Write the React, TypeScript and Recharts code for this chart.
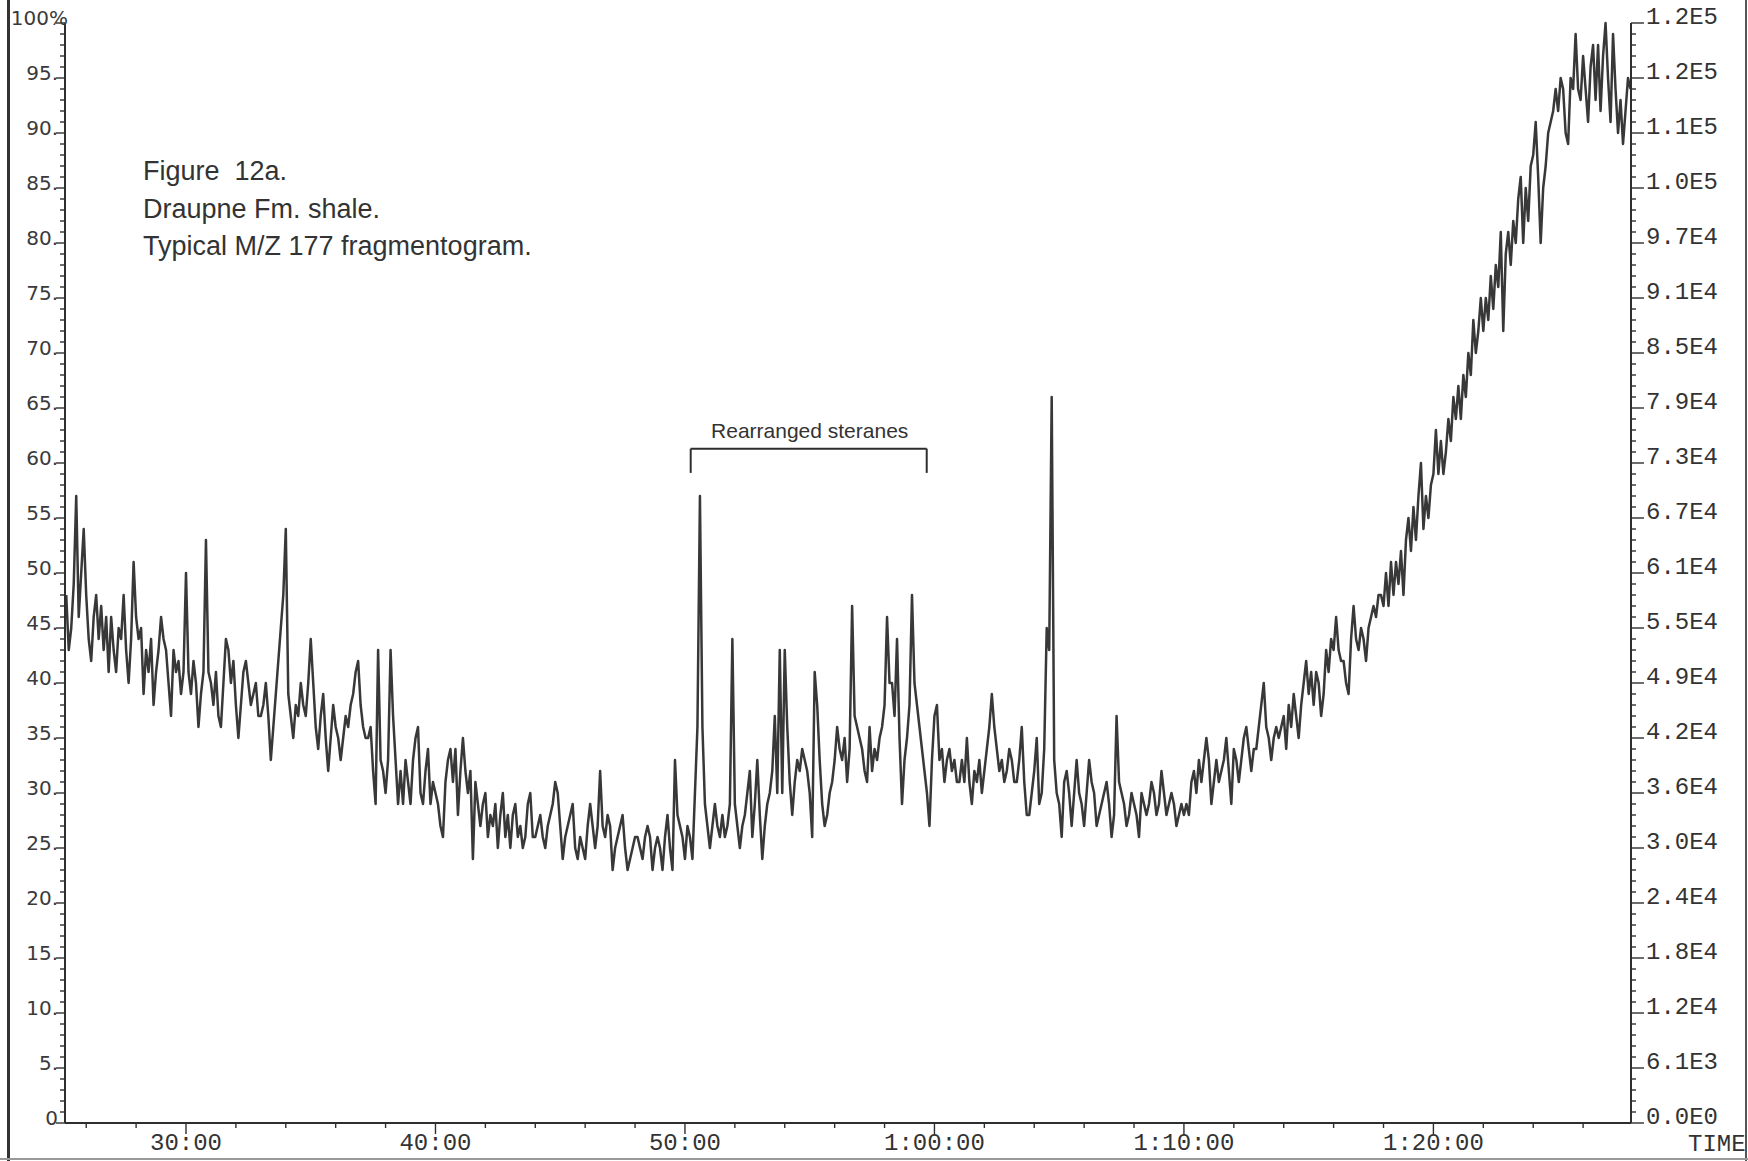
import { LineChart, Line, XAxis, YAxis, ReferenceLine, ReferenceDot, Label } from 'recharts';

const W = 1748;
const H = 1161;
const INK = '#2e2e2e';
const TRACE = '#383838';

// ── m/z 177 relative intensity (%), one scan every 0.1 min ──────
const SCAN_STEP = 0.1;

// 25.2 – 29.9 min
const scans25 = [
  48, 43, 45, 49, 57, 46, 50, 54, 48, 44,
  42, 46, 48, 44, 47, 43, 46, 41, 46, 43,
  41, 45, 44, 48, 43, 40, 44, 51, 46, 44,
  45, 39, 43, 41, 44, 38, 41, 43, 46, 44,
  43, 40, 37, 43, 41, 42, 39, 41,
];
// 30.0 – 39.9 min
const scans30 = [
  50, 41, 39, 42, 40, 36, 39, 41, 53, 41,
  40, 38, 41, 37, 36, 40, 44, 43, 40, 42,
  38, 35, 38, 41, 42, 40, 38, 39, 40, 37,
  37, 38, 40, 37, 33, 36, 39, 42, 45, 48,
  54, 39, 37, 35, 38, 37, 40, 38, 37, 40,
  44, 40, 36, 34, 37, 39, 35, 32, 35, 38,
  36, 35, 33, 35, 37, 36, 38, 39, 41, 42,
  38, 36, 35, 35, 36, 32, 29, 43, 33, 32,
  30, 33, 43, 37, 33, 29, 32, 29, 33, 31,
  29, 33, 35, 36, 30, 29, 32, 34, 29, 31,
];
// 40.0 – 49.9 min
const scans40 = [
  30, 29, 27, 26, 31, 33, 34, 31, 34, 28,
  32, 35, 32, 30, 32, 24, 31, 29, 27, 29,
  30, 26, 28, 27, 29, 25, 28, 30, 26, 28,
  25, 28, 29, 26, 27, 25, 26, 29, 30, 26,
  26, 27, 28, 26, 25, 27, 28, 29, 31, 30,
  27, 24, 26, 27, 28, 29, 25, 24, 26, 25,
  24, 27, 29, 27, 25, 27, 32, 27, 26, 28,
  27, 23, 25, 26, 27, 28, 25, 23, 24, 25,
  26, 26, 25, 24, 26, 27, 26, 23, 25, 26,
  25, 23, 26, 28, 25, 23, 33, 28, 27, 26,
];
// 50.0 – 59.9 min (rearranged steranes)
const scans50 = [
  24, 27, 26, 24, 30, 36, 57, 36, 29, 27,
  25, 27, 29, 27, 26, 28, 26, 27, 29, 44,
  29, 27, 25, 27, 28, 30, 32, 26, 29, 33,
  28, 24, 27, 29, 30, 32, 37, 30, 43, 30,
  43, 36, 31, 28, 31, 33, 32, 34, 33, 32,
  30, 26, 41, 38, 33, 29, 27, 28, 30, 31,
  33, 36, 34, 33, 35, 31, 34, 47, 37, 36,
  35, 34, 32, 31, 36, 32, 34, 33, 35, 36,
  38, 46, 40, 40, 37, 44, 35, 29, 33, 35,
  38, 48, 40, 38, 36, 34, 32, 30, 27, 33,
];
// 60.0 – 69.9 min
const scans60 = [
  37, 38, 33, 34, 31, 33, 34, 32, 33, 31,
  31, 33, 31, 35, 31, 29, 32, 31, 33, 30,
  32, 34, 36, 39, 36, 34, 32, 33, 31, 32,
  34, 33, 31, 31, 33, 36, 31, 28, 28, 30,
  32, 35, 29, 30, 34, 45, 43, 66, 33, 30,
  29, 26, 31, 32, 30, 27, 30, 33, 30, 29,
  27, 30, 33, 31, 30, 27, 28, 29, 30, 31,
  29, 26, 28, 37, 31, 30, 29, 27, 28, 30,
  29, 28, 26, 30, 29, 28, 29, 31, 30, 28,
  29, 32, 30, 28, 29, 30, 29, 27, 28, 29,
];
// 70.0 – 79.9 min
const scans70 = [
  28, 29, 28, 31, 32, 30, 33, 31, 33, 35,
  33, 29, 31, 33, 31, 32, 33, 35, 32, 29,
  34, 33, 31, 33, 35, 36, 34, 32, 34, 34,
  36, 38, 40, 36, 35, 33, 35, 36, 35, 36,
  37, 34, 38, 36, 39, 37, 35, 38, 40, 42,
  39, 41, 38, 41, 40, 37, 39, 43, 41, 44,
  43, 46, 43, 42, 42, 40, 39, 44, 47, 44,
  43, 45, 44, 42, 45, 46, 47, 46, 48, 48,
  47, 50, 47, 51, 48, 51, 49, 52, 48, 53,
  55, 52, 56, 53, 57, 60, 54, 57, 55, 58,
];
// 80.0 – 87.9 min
const scans80 = [
  59, 63, 59, 62, 59, 61, 64, 62, 66, 64,
  67, 64, 68, 66, 70, 68, 73, 70, 72, 75,
  72, 75, 73, 77, 74, 78, 76, 81, 72, 79,
  81, 78, 82, 80, 84, 86, 80, 85, 82, 87,
  88, 91, 86, 80, 85, 87, 90, 91, 92, 94,
  92, 95, 94, 90, 89, 95, 94, 99, 94, 93,
  97, 94, 91, 96, 98, 93, 98, 92, 97, 100,
  95, 91, 99, 94, 90, 93, 89, 92, 95, 94,
];

const segmentStarts = [25.2, 30, 40, 50, 60, 70, 80];
const segmentScans = [scans25, scans30, scans40, scans50, scans60, scans70, scans80];

const trace = segmentScans.flatMap((vals, s) =>
  vals.map((v, i) => ({ t: Math.round((segmentStarts[s] + i * SCAN_STEP) * 10) / 10, v })),
);

// ── axes ────────────────────────────────────────────────────
const timeTicks = [26, 28, 30, 32, 34, 36, 38, 40, 42, 44, 46, 48, 50, 52, 54, 56, 58,
  60, 62, 64, 66, 68, 70, 72, 74, 76, 78, 80, 82, 84, 86];
const timeMajor = [30, 40, 50, 60, 70, 80];
const timeLabels = ['30:00', '40:00', '50:00', '1:00:00', '1:10:00', '1:20:00'];

const pctTicks = Array.from({ length: 101 }, (_, i) => i);
const pctLabels = ['0', '5.', '10.', '15.', '20.', '25.', '30.', '35.', '40.', '45.', '50.',
  '55.', '60.', '65.', '70.', '75.', '80.', '85.', '90.', '95.', '100%'];
const absLabels = ['0.0E0', '6.1E3', '1.2E4', '1.8E4', '2.4E4', '3.0E4', '3.6E4', '4.2E4',
  '4.9E4', '5.5E4', '6.1E4', '6.7E4', '7.3E4', '7.9E4', '8.5E4', '9.1E4', '9.7E4', '1.0E5',
  '1.1E5', '1.2E5', '1.2E5'];

// bracket over the rearranged sterane window (minutes / %)
const bracket = { from: 50.23, to: 59.69, top: 61.3, foot: 59.1 };
const bracketText = { t: 55.0, v: 62.95, text: 'Rearranged steranes' };

const captionLines = ['Figure  12a.', 'Draupne Fm. shale.', 'Typical M/Z 177 fragmentogram.'];

const MONO = "'Liberation Mono', 'DejaVu Sans Mono', monospace";
const SANS = "'Liberation Sans', Arial, sans-serif";

function PctTick(props: any) {
  const { x, y, payload } = props;
  const v = payload.value as number;
  const major = v % 5 === 0;
  return (
    <g>
      <line x1={x - (major ? 9 : 5)} y1={y} x2={x} y2={y} stroke={INK} strokeWidth={1.4} />
      {major && (
        <text
          x={v === 100 ? x + 3 : x - 7}
          y={y + 2}
          textAnchor="end"
          fontFamily="'DejaVu Sans', sans-serif"
          fontSize={20}
          fill="#3a3a3a"
        >
          {pctLabels[v / 5]}
        </text>
      )}
    </g>
  );
}

function AbsTick(props: any) {
  const { x, y, payload } = props;
  const v = payload.value as number;
  const major = v % 5 === 0;
  return (
    <g>
      <line x1={x} y1={y} x2={x + (major ? 13 : 5)} y2={y} stroke={INK} strokeWidth={1.4} />
      {major && (
        <text x={x + 15} y={y + 1} textAnchor="start" fontFamily={MONO} fontSize={24} fill="#333">
          {absLabels[v / 5]}
        </text>
      )}
    </g>
  );
}

function TimeTick(props: any) {
  const { x, y, payload } = props;
  const k = timeMajor.indexOf(payload.value);
  return (
    <g>
      <line x1={x} y1={y} x2={x} y2={y + (k >= 0 ? 11 : 5)} stroke={INK} strokeWidth={1.4} />
      {k >= 0 && (
        <text x={x} y={y + 27} textAnchor="middle" fontFamily={MONO} fontSize={24} fill="#333">
          {timeLabels[k]}
        </text>
      )}
    </g>
  );
}

export default function App() {
  return (
    <div style={{ position: 'absolute', left: 0, top: 0, width: W, height: H, background: '#fff' }}>
      <LineChart width={W} height={H} data={trace} margin={{ top: 23, right: 0, bottom: 0, left: 0 }}>
        <XAxis
          dataKey="t"
          type="number"
          domain={[25.15, 87.92]}
          allowDataOverflow
          ticks={timeTicks}
          interval={0}
          height={38}
          tickSize={0}
          tickMargin={0}
          tickLine={false}
          tick={<TimeTick />}
          axisLine={{ stroke: INK, strokeWidth: 2 }}
        >
          <Label value="TIME" position="right" offset={57} fontFamily={MONO} fontSize={24} fill="#333" />
        </XAxis>
        <YAxis
          yAxisId="pct"
          type="number"
          domain={[0, 100]}
          ticks={pctTicks}
          interval={0}
          width={65}
          tickSize={0}
          tickMargin={0}
          tickLine={false}
          tick={<PctTick />}
          axisLine={{ stroke: INK, strokeWidth: 2 }}
        />
        <YAxis
          yAxisId="abs"
          orientation="right"
          type="number"
          domain={[0, 100]}
          ticks={pctTicks}
          interval={0}
          width={117}
          tickSize={0}
          tickMargin={0}
          tickLine={false}
          tick={<AbsTick />}
          axisLine={{ stroke: INK, strokeWidth: 2 }}
        />
        {/* same scans against the absolute-count scale; keeps that axis bound to data */}
        <Line
          yAxisId="abs"
          dataKey="v"
          type="linear"
          stroke="none"
          dot={false}
          activeDot={false}
          isAnimationActive={false}
        />
        <Line
          yAxisId="pct"
          dataKey="v"
          type="linear"
          stroke={TRACE}
          strokeWidth={2.5}
          strokeLinejoin="round"
          dot={false}
          activeDot={false}
          isAnimationActive={false}
        />
        <ReferenceLine
          yAxisId="pct"
          segment={[{ x: bracket.from, y: bracket.top }, { x: bracket.to, y: bracket.top }]}
          stroke={INK}
          strokeWidth={2}
        />
        <ReferenceLine
          yAxisId="pct"
          segment={[{ x: bracket.from, y: bracket.top }, { x: bracket.from, y: bracket.foot }]}
          stroke={INK}
          strokeWidth={2}
        />
        <ReferenceLine
          yAxisId="pct"
          segment={[{ x: bracket.to, y: bracket.top }, { x: bracket.to, y: bracket.foot }]}
          stroke={INK}
          strokeWidth={2}
        />
        <ReferenceDot
          yAxisId="pct"
          x={bracketText.t}
          y={bracketText.v}
          r={0}
          fill="none"
          stroke="none"
          label={{ value: bracketText.text, position: 'center', fontFamily: SANS, fontSize: 21, fill: '#333' }}
        />
      </LineChart>

      {/* caption */}
      <svg width={W} height={H} style={{ position: 'absolute', left: 0, top: 0, pointerEvents: 'none' }}>
        {captionLines.map((line, i) => (
          <text key={i} x={143} y={180 + i * 37.5} fontFamily={SANS} fontSize={27} fill="#333" style={{ whiteSpace: 'pre' }}>
            {line}
          </text>
        ))}
        {/* page frame */}
        <line x1={8.5} y1={0} x2={8.5} y2={H} stroke="#333" strokeWidth={3} />
        <line x1={1746} y1={0} x2={1746} y2={H} stroke="#555" strokeWidth={2} />
        <line x1={0} y1={1159} x2={W} y2={1159} stroke="#999" strokeWidth={2} />
      </svg>
    </div>
  );
}
